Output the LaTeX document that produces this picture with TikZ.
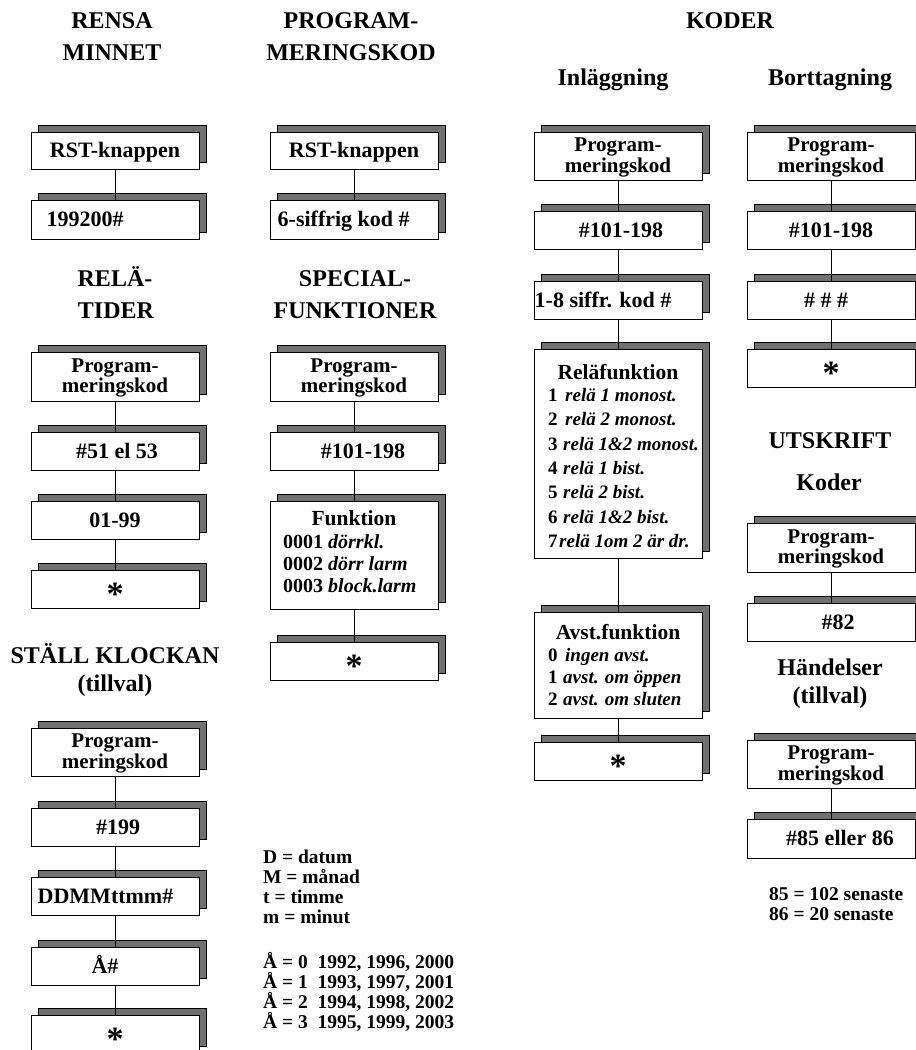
\documentclass[tikz,border=0pt]{standalone}
\usepackage{fontspec}
\setmainfont{Liberation Serif}
\definecolor{shadowgray}{HTML}{707070}
\tikzset{
  boxst/.style={draw=black, line width=1pt, fill=white, inner sep=0pt, minimum width=168pt},
  shd/.style={draw=black, line width=1pt, fill=shadowgray},
  conn/.style={draw=black, line width=1pt},
  ttl/.style={font=\fontsize{24}{28}\selectfont\bfseries, anchor=base, inner sep=0pt},
  btxt/.style={font=\fontsize{22}{19}\selectfont\bfseries, inner sep=0pt, text height=14pt, text depth=0pt, align=center},
  btwo/.style={font=\fontsize{21}{19}\selectfont\bfseries, inner sep=0pt, text height=32pt, text depth=0pt, align=center},
  bline/.style={font=\fontsize{21.5}{19}\selectfont\bfseries, inner sep=0pt, anchor=base},
  itm/.style={font=\fontsize{19}{24}\selectfont\bfseries, inner sep=0pt, anchor=base west},
  fitm/.style={font=\fontsize{20}{22}\selectfont\bfseries, inner sep=0pt, anchor=base west},
  leg/.style={font=\fontsize{19.5}{20}\selectfont\bfseries, inner sep=0pt, anchor=base west},
  astx/.style={font=\fontsize{34}{34}\selectfont\bfseries, inner sep=0pt, anchor=base}
}
\newcommand\shbox[4]{%
  \draw[shd] ({#2-84+7},{#3-7}) rectangle ({#2+84+7},{#4-7});
  \node[boxst, minimum height={(#4-#3)*1pt}] (#1) at (#2,{(#3+#4)/2}) {};
}
\newcommand\nr[2]{\makebox[#1][l]{#2}}
\begin{document}
\begin{tikzpicture}[x=1pt,y=-1pt]
\useasboundingbox (0,0) rectangle (916,1050);
\clip (0,0) rectangle (916,1050);

% ---------- titles
\node[ttl] (tRensa) at (112,28) {RENSA};
\node[ttl] (tMinnet) at (112,60) {MINNET};
\node[ttl] (tProg) at (351,28) {PROGRAM-};
\node[ttl] (tMering) at (351,60) {MERINGSKOD};
\node[ttl] (tKoder) at (730,28) {KODER};
\node[ttl] (tInl) at (613,85) {Inläggning};
\node[ttl] (tBort) at (830,85) {Borttagning};
\node[ttl] (tRela) at (115,286) {RELÄ-};
\node[ttl] (tTider) at (116,318) {TIDER};
\node[ttl] (tSpec) at (355,286) {SPECIAL-};
\node[ttl] (tFunk) at (355,318) {FUNKTIONER};
\node[ttl] (tStall) at (115,663) {STÄLL KLOCKAN};
\node[ttl] (tTill) at (115,691) {(tillval)};
\node[ttl] (tUtsk) at (830,448) {UTSKRIFT};
\node[ttl] (tKod2) at (829,490) {Koder};
\node[ttl] (tHand) at (830,675) {Händelser};
\node[ttl] (tTill2) at (830,703) {(tillval)};

% ---------- column A
\shbox{A1}{115}{132}{169}
\shbox{A2}{115}{200}{239}
\shbox{A3}{115}{352}{401}
\shbox{A4}{115}{432}{470}
\shbox{A5}{115}{501}{539}
\shbox{A6}{115}{570}{608}
\shbox{A7}{115}{728}{776}
\shbox{A8}{115}{808}{846}
\shbox{A9}{115}{877}{915}
\shbox{A10}{115}{947}{985}
\shbox{A11}{115}{1015}{1053}

% ---------- column B
\shbox{B1}{354}{132}{169}
\shbox{B2}{354}{200}{239}
\shbox{B3}{354}{352}{401}
\shbox{B4}{354}{432}{470}
\shbox{B5}{354}{501}{609}
\shbox{B6}{354}{642}{680}

% ---------- column C
\shbox{C1}{618}{132}{180}
\shbox{C2}{618}{211}{249}
\shbox{C3}{618}{281}{319}
\shbox{C4}{618}{349}{558}
\shbox{C5}{618}{612}{718}
\shbox{C6}{618}{742}{780}

% ---------- column D
\shbox{D1}{831}{132}{180}
\shbox{D2}{831}{211}{249}
\shbox{D3}{831}{281}{319}
\shbox{D4}{831}{349}{387}
\shbox{D5}{831}{523}{572}
\shbox{D6}{831}{603}{641}
\shbox{D7}{831}{740}{788}
\shbox{D8}{831}{819}{858}

% ---------- box texts
\node[btxt] (A1t) at (A1.center) {RST-knappen};
\node[btxt] (A2t) at ([xshift=-30pt]A2.center) {199200\#};
\node[btwo] (A3t) at (A3.center) {Program-\\meringskod};
\node[btxt] (A4t) at ([xshift=2pt]A4.center) {\#51 el 53};
\node[btxt] (A5t) at (A5.center) {01-99};
\node[astx] (A6t) at ([yshift=-16pt]A6.center) {*};
\node[btwo] (A7t) at (A7.center) {Program-\\meringskod};
\node[btxt] (A8t) at ([xshift=3pt]A8.center) {\#199};
\node[btxt, anchor=west] (A9t) at ([xshift=7pt]A9.west) {DDMMttmm\#};
\node[btxt] (A10t) at ([xshift=-10pt]A10.center) {Å\#};
\node[astx] (A11t) at ([yshift=-16pt]A11.center) {*};

\node[btxt] (B1t) at (B1.center) {RST-knappen};
\node[btxt, anchor=west] (B2t) at ([xshift=8pt]B2.west) {6-siffrig kod \#};
\node[btwo] (B3t) at (B3.center) {Program-\\meringskod};
\node[btxt] (B4t) at ([xshift=9pt]B4.center) {\#101-198};
\node[bline] (B5h) at (354,525) {Funktion};
\node[fitm] (B5a) at (283,548) {0001 \textit{dörrkl.}};
\node[fitm] (B5b) at (283,570) {0002 \textit{dörr larm}};
\node[fitm] (B5c) at (283,592) {0003 \textit{block.larm}};
\node[astx] (B6t) at ([yshift=-16pt]B6.center) {*};

\node[btwo] (C1t) at (C1.center) {Program-\\meringskod};
\node[btxt] (C2t) at ([xshift=3pt]C2.center) {\#101-198};
\node[btxt, anchor=west] (C3t) at ([xshift=1pt]C3.west) {1-8 siffr. kod \#};
\node[bline] (C4h) at (618,379) {Reläfunktion};
\node[itm] (C4a) at (548,401) {\nr{17pt}{1}\textit{relä 1 monost.}};
\node[itm] (C4b) at (548,425) {\nr{17pt}{2}\textit{relä 2 monost.}};
\node[itm] (C4c) at (548,450) {\nr{15pt}{3}\textit{relä 1\&2 monost.}};
\node[itm] (C4d) at (548,474) {\nr{15pt}{4}\textit{relä 1 bist.}};
\node[itm] (C4e) at (548,498) {\nr{15pt}{5}\textit{relä 2 bist.}};
\node[itm] (C4f) at (548,523) {\nr{15pt}{6}\textit{relä 1\&2 bist.}};
\node[itm] (C4g) at (548,547) {\nr{11pt}{7}\textit{relä 1om 2 är dr.}};
\node[bline] (C5h) at (618,639) {Avst.funktion};
\node[itm] (C5a) at (548,661) {\nr{17pt}{0}\textit{ingen avst.}};
\node[itm] (C5b) at (548,683) {\nr{15pt}{1}\textit{avst. om öppen}};
\node[itm] (C5c) at (548,705) {\nr{15pt}{2}\textit{avst. om sluten}};
\node[astx] (C6t) at ([yshift=-16pt]C6.center) {*};

\node[btwo] (D1t) at (D1.center) {Program-\\meringskod};
\node[btxt] (D2t) at (D2.center) {\#101-198};
\node[btxt] (D3t) at ([xshift=-5pt]D3.center) {\# \# \#};
\node[astx] (D4t) at ([yshift=-16pt]D4.center) {*};
\node[btwo] (D5t) at (D5.center) {Program-\\meringskod};
\node[btxt] (D6t) at ([xshift=7pt]D6.center) {\#82};
\node[btwo] (D7t) at (D7.center) {Program-\\meringskod};
\node[btxt] (D8t) at ([xshift=9pt]D8.center) {\#85 eller 86};

% ---------- connectors
\draw[conn] (A1) -- (A2);
\draw[conn] (B1) -- (B2);
\draw[conn] (A3) -- (A4);
\draw[conn] (A4) -- (A5);
\draw[conn] (A5) -- (A6);
\draw[conn] (B3) -- (B4);
\draw[conn] (B4) -- (B5);
\draw[conn] (B5) -- (B6);
\draw[conn] (A7) -- (A8);
\draw[conn] (A8) -- (A9);
\draw[conn] (A9) -- (A10);
\draw[conn] (A10) -- (A11);
\draw[conn] (C1) -- (C2);
\draw[conn] (C2) -- (C3);
\draw[conn] (C3) -- (C4);
\draw[conn] (C4) -- (C5);
\draw[conn] (C5) -- (C6);
\draw[conn] (D1) -- (D2);
\draw[conn] (D2) -- (D3);
\draw[conn] (D3) -- (D4);
\draw[conn] (D5) -- (D6);
\draw[conn] (D7) -- (D8);

% ---------- legends
\node[leg] (L1) at (263,863) {D = datum};
\node[leg] (L2) at (263,883) {M = månad};
\node[leg] (L3) at (263,903) {t = timme};
\node[leg] (L4) at (263,923) {m = minut};
\node[leg] (L5) at (263,968) {Å = 0\ \ 1992, 1996, 2000};
\node[leg] (L6) at (263,988) {Å = 1\ \ 1993, 1997, 2001};
\node[leg] (L7) at (263,1008) {Å = 2\ \ 1994, 1998, 2002};
\node[leg] (L8) at (263,1028) {Å = 3\ \ 1995, 1999, 2003};
\node[leg] (R1) at (769,900) {85 = 102 senaste};
\node[leg] (R2) at (769,920) {86 = 20 senaste};
\end{tikzpicture}
\end{document}
